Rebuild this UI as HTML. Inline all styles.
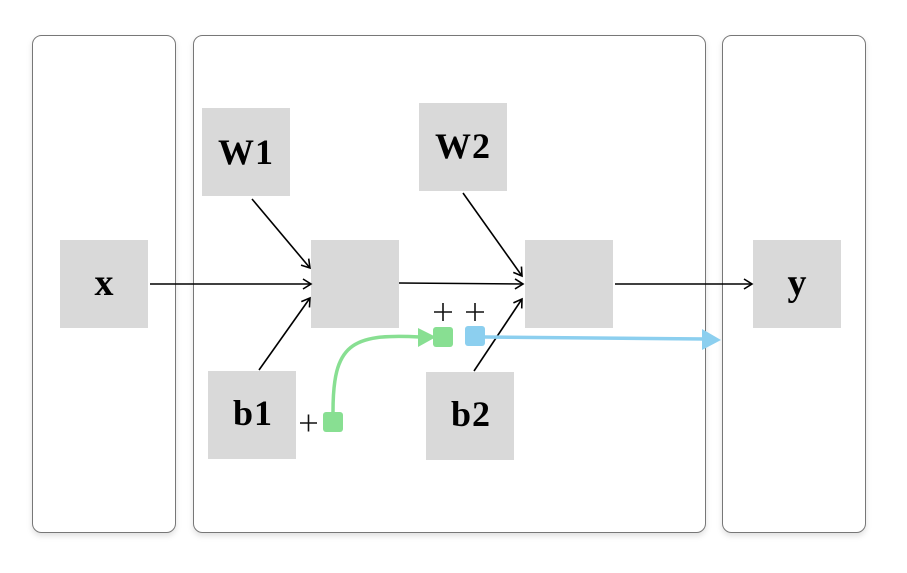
<!DOCTYPE html>
<html><head><style>
body{margin:0;background:#fff;width:907px;height:568px;overflow:hidden}
</style></head><body>
<svg width="907" height="568" viewBox="0 0 907 568" xmlns="http://www.w3.org/2000/svg">
<defs>
<filter id="sh" x="-10%" y="-10%" width="120%" height="120%"><feDropShadow dx="0" dy="3" stdDeviation="3" flood-color="#000" flood-opacity="0.12"/></filter>
<marker id="ch" markerWidth="12" markerHeight="12" refX="10" refY="6" orient="auto" markerUnits="userSpaceOnUse"><path d="M2,1 L10,6 L2,11" fill="none" stroke="#000" stroke-width="1.6"/></marker>
</defs>
<g fill="#fff" stroke="#777" stroke-width="1" filter="url(#sh)">
<rect x="32.5" y="35.5" width="143" height="497" rx="9"/>
<rect x="193.5" y="35.5" width="512" height="497" rx="9"/>
<rect x="722.5" y="35.5" width="143" height="497" rx="9"/>
</g>
<g fill="#d9d9d9">
<rect x="60" y="240" width="88" height="88"/>
<rect x="202" y="108" width="88" height="88"/>
<rect x="419" y="103" width="88" height="88"/>
<rect x="311" y="240" width="88" height="88"/>
<rect x="525" y="240" width="88" height="88"/>
<rect x="753" y="240" width="88" height="88"/>
<rect x="208" y="371" width="88" height="88"/>
<rect x="426" y="372" width="88" height="88"/>
</g>
<g font-family="Liberation Serif, serif" font-weight="bold" font-size="36" text-anchor="middle" fill="#000" letter-spacing="1">
<text x="246" y="164">W1</text>
<text x="463" y="158">W2</text>
<text x="253" y="425">b1</text>
<text x="471" y="426">b2</text>
</g>
<g font-family="Liberation Serif, serif" font-weight="bold" font-size="38" text-anchor="middle" fill="#000">
<text x="104" y="295">x</text>
<text x="797" y="295">y</text>
</g>
<g stroke="#000" stroke-width="1.6" fill="none" marker-end="url(#ch)">
<line x1="150" y1="284" x2="311" y2="284"/>
<line x1="252" y1="199" x2="310" y2="268"/>
<line x1="259" y1="370" x2="310" y2="298"/>
<line x1="399" y1="283" x2="523" y2="284"/>
<line x1="463" y1="193" x2="522" y2="276"/>
<line x1="474" y1="371" x2="522" y2="299"/>
<line x1="615" y1="284" x2="752" y2="284"/>
</g>
<path d="M333,412 C333,345 350,333 420,337" fill="none" stroke="#88df92" stroke-width="3.5"/>
<path d="M418,328 L436,337 L418,347 Z" fill="#88df92"/>
<line x1="485" y1="337" x2="706" y2="339" stroke="#8ccfef" stroke-width="3.5"/>
<path d="M702,329 L721,340 L702,350 Z" fill="#8ccfef"/>
<rect x="323" y="412" width="20" height="20" rx="3" fill="#88df92"/>
<rect x="433" y="327" width="20" height="20" rx="3" fill="#88df92"/>
<rect x="465" y="326" width="20" height="20" rx="3" fill="#8ccfef"/>
<g stroke="#111" stroke-width="1.6">
<path d="M300,423 H317 M308.5,414.5 V431.5"/>
<path d="M434,312 H452 M443,303 V321"/>
<path d="M466,312 H484 M475,303 V321"/>
</g>
</svg>
</body></html>
